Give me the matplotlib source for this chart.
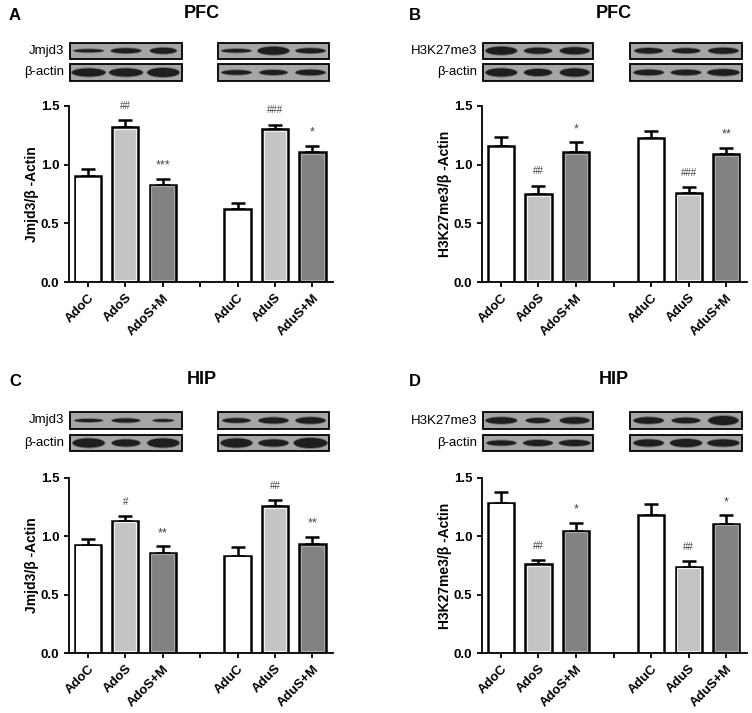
import numpy as np
import matplotlib
matplotlib.use("Agg")
import matplotlib.pyplot as plt
from matplotlib.patches import Rectangle, Ellipse

plt.rcParams["font.family"] = ["Liberation Sans", "DejaVu Sans"]

groups = ["AdoC", "AdoS", "AdoS+M", "", "AduC", "AduS", "AduS+M"]
xpos = [0, 1, 2, 4, 5, 6]

# bar means and upper error ends
a_mean = [0.90, 1.32, 0.83, 0.62, 1.30, 1.11]
a_err = [0.06, 0.06, 0.05, 0.05, 0.04, 0.05]
a_sig = ["", "##", "***", "", "###", "*"]

b_mean = [1.16, 0.75, 1.105, 1.225, 0.76, 1.09]
b_err = [0.075, 0.07, 0.085, 0.065, 0.05, 0.055]
b_sig = ["", "##", "*", "", "###", "**"]

c_mean = [0.93, 1.135, 0.86, 0.835, 1.26, 0.935]
c_err = [0.045, 0.04, 0.055, 0.075, 0.05, 0.06]
c_sig = ["", "#", "**", "", "##", "**"]

d_mean = [1.29, 0.76, 1.05, 1.18, 0.74, 1.11]
d_err = [0.09, 0.035, 0.065, 0.10, 0.045, 0.07]
d_sig = ["", "##", "*", "", "##", "*"]

bar_colors = ["white", "#c4c4c4", "#828282"] * 2
inner_colors = ["white", "#f0f0f0", "#a8a8a8"] * 2

fig = plt.figure(figsize=(7.52, 7.13), dpi=100)

# overlay in pixel coordinates for labels and blot pictures
bg = fig.add_axes([0, 0, 1, 1])
bg.set_xlim(0, 752)
bg.set_ylim(713, 0)
bg.axis("off")


def blot(x0, x1, y0, y1, bands):
    bg.add_patch(Rectangle((x0, y0), x1 - x0, y1 - y0, facecolor="#a6a6a6",
                           edgecolor="black", linewidth=1.3))
    lane = (x1 - x0) / 3
    for i, (w, h) in enumerate(bands):
        cx = x0 + lane * (i + 0.5)
        bg.add_patch(Ellipse((cx, (y0 + y1) / 2), lane * w, h + 2,
                             facecolor="#555555", edgecolor="none", alpha=0.6))
        bg.add_patch(Ellipse((cx, (y0 + y1) / 2), lane * w * 0.95, h,
                             facecolor="#1e1e1e", edgecolor="none"))


# band (relative width, height in px) per lane
jm_pfc = [[(0.85, 3), (0.85, 5), (0.75, 6)], [(0.85, 3.5), (0.9, 8), (0.85, 5)]]
ac_pfc_a = [[(0.95, 8), (0.95, 8), (0.9, 9)], [(0.85, 4.5), (0.8, 5), (0.85, 5.5)]]
h3_pfc = [[(0.9, 8), (0.8, 6), (0.85, 7)], [(0.8, 5.5), (0.8, 5), (0.85, 6)]]
ac_pfc_b = [[(0.9, 8), (0.8, 7), (0.85, 8)], [(0.85, 5.5), (0.85, 5.5), (0.9, 6.5)]]
jm_hip = [[(0.8, 3), (0.8, 4), (0.6, 2.5)], [(0.8, 4.5), (0.85, 6), (0.85, 6.5)]]
ac_hip_c = [[(0.9, 9), (0.8, 7), (0.9, 9)], [(0.9, 9), (0.85, 7), (0.95, 10)]]
h3_hip = [[(0.9, 6.5), (0.7, 5), (0.85, 6.5)], [(0.85, 6.5), (0.8, 5.5), (0.85, 9)]]
ac_hip_d = [[(0.85, 5), (0.85, 6), (0.9, 6)], [(0.85, 7), (0.9, 8), (0.9, 7)]]

panels = [
    ("A", "PFC", "Jmjd3", "Jmjd3/β -Actin", a_mean, a_err, a_sig, 0, 0,
     jm_pfc, ac_pfc_a),
    ("B", "PFC", "H3K27me3", "H3K27me3/β -Actin", b_mean, b_err, b_sig, 1, 0,
     h3_pfc, ac_pfc_b),
    ("C", "HIP", "Jmjd3", "Jmjd3/β -Actin", c_mean, c_err, c_sig, 0, 1,
     jm_hip, ac_hip_c),
    ("D", "HIP", "H3K27me3", "H3K27me3/β -Actin", d_mean, d_err, d_sig, 1, 1,
     h3_hip, ac_hip_d),
]

for letter, region, protein, ylab, mean, err, sig, col, row, top_b, act_b in panels:
    ox = 0 if col == 0 else 412
    oy = 0 if row == 0 else 366
    ax_left = 69 if col == 0 else 482
    ax_right = 333 if col == 0 else 747
    ax_top = 106 if row == 0 else 478
    ax_bot = 282 if row == 0 else 653

    bg.text(9 + ox * 0.97, 15 + oy, letter, fontsize=12, fontweight="bold",
            ha="left", va="center")
    bg.text(202 + ox, 13 + oy, region, fontsize=13, fontweight="bold",
            ha="center", va="center")

    bx0 = 70 if col == 0 else 483
    bx1 = 182 if col == 0 else 593
    rx0 = 218 if col == 0 else 630
    rx1 = 329 if col == 0 else 742
    ty0, ty1, ay0, ay1 = (43, 58.5, 64, 81) if row == 0 else (412, 429, 435, 451)
    blot(bx0, bx1, ty0, ty1, top_b[0])
    blot(rx0, rx1, ty0, ty1, top_b[1])
    blot(bx0, bx1, ay0, ay1, act_b[0])
    blot(rx0, rx1, ay0, ay1, act_b[1])
    bg.text(bx0 - 6, (ty0 + ty1) / 2, protein, fontsize=9.5, ha="right", va="center")
    bg.text(bx0 - 6, (ay0 + ay1) / 2, "β-actin", fontsize=9.5, ha="right", va="center")

    ax = fig.add_axes([ax_left / 752, 1 - ax_bot / 713,
                       (ax_right - ax_left) / 752, (ax_bot - ax_top) / 713])
    ax.bar(xpos, mean, width=0.7, color=bar_colors, edgecolor="black",
           linewidth=1.8, zorder=2)
    ax.bar(xpos, np.array(mean) - 0.03, bottom=0.015, width=0.6, color="none",
           edgecolor=inner_colors, linewidth=0.8, zorder=3)
    ax.errorbar(xpos, mean, yerr=[np.zeros(len(err)), err], fmt="none",
                ecolor="black", elinewidth=1.8, capsize=5, capthick=1.8, zorder=1)
    for x, m, e, s in zip(xpos, mean, err, sig):
        if s:
            star = s.startswith("*")
            ax.text(x, m + e + (0.06 if star else 0.08), s, ha="center",
                    va="bottom", fontsize=9 if star else 7, color="#444444")
    ax.set_xlim(-0.5, 6.55)
    ax.set_ylim(0, 1.5)
    ax.set_yticks([0, 0.5, 1.0, 1.5])
    ax.set_yticklabels(["0.0", "0.5", "1.0", "1.5"])
    ax.set_xticks(range(7))
    ax.set_xticklabels(groups, rotation=45, ha="right", rotation_mode="anchor")
    ax.set_ylabel(ylab, fontsize=10, fontweight="bold", labelpad=1)
    ax.spines["top"].set_visible(False)
    ax.spines["right"].set_visible(False)
    ax.spines["left"].set_linewidth(1.3)
    ax.spines["bottom"].set_linewidth(1.3)
    ax.tick_params(axis="both", width=1.3, length=3.5, labelsize=9.5)
    for lab in ax.get_xticklabels() + ax.get_yticklabels():
        lab.set_fontweight("bold")

fig.savefig("out.png", dpi=100)
